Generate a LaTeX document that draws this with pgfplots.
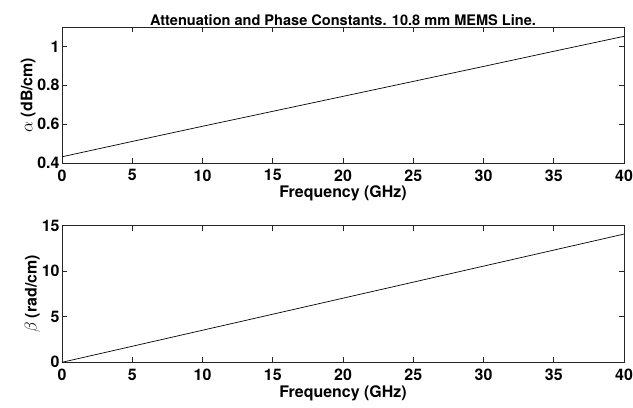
\documentclass[border=0pt]{standalone}
\usepackage{pgfplots}
\pgfplotsset{compat=1.18}
\usepackage{fontspec}
\setmainfont{TeX Gyre Heros}
\pgfplotsset{
  mystyle/.style={
    scale only axis, anchor=south west,
    width=562bp,
    xmin=0, xmax=40,
    xtick={0,5,10,15,20,25,30,35,40},
    axis lines=box,
    tick align=inside,
    major tick length=5bp,
    every tick/.append style={black!85, line width=0.9bp},
    xmajorgrids, ymajorgrids,
    x grid style={black!85, line width=0.9bp, dash pattern=on 5bp off 126bp on 10bp},
    y grid style={black!85, line width=0.9bp, dash pattern=on 5bp off 552bp on 10bp},
    axis line style={black!85, line width=0.9bp},
    tick label style={font=\bfseries\fontsize{16}{18}\selectfont},
    /pgf/number format/assume math mode=true,
    label style={font=\bfseries\fontsize{16}{18}\selectfont},
    xlabel={Frequency (GHz)},
    xticklabel style={yshift=-3bp},
    xlabel style={yshift=2bp},
    ylabel style={yshift=-5bp},
    yticklabel style={xshift=1bp},
  }
}
\begin{document}
\begin{tikzpicture}
\path[use as bounding box] (0bp,0bp) rectangle (633bp,408bp);
\begin{axis}[mystyle, at={(62bp,245bp)}, height=136bp,
  ymin=0.4, ymax=1.1, ytick={0.4,0.6,0.8,1},
  yticklabels={0.4,0.6,0.8,1},
  ylabel={$\alpha$ (dB/cm)},
  title={Attenuation and Phase Constants. 10.8 mm MEMS Line.},
  title style={font=\bfseries\fontsize{14.6}{16}\selectfont, yshift=-8bp},
]
\addplot[black, line width=0.7bp] coordinates {
(0,0.432) (5,0.511) (10,0.589) (15,0.666) (20,0.743) (25,0.820) (30,0.897) (35,0.975) (40,1.052)
};
\end{axis}
\begin{axis}[mystyle, at={(62bp,45.7bp)}, height=136.6bp,
  ymin=0, ymax=15, ytick={0,5,10,15},
  ylabel={$\beta$ (rad/cm)},
]
\addplot[black, line width=0.7bp] coordinates {
(0,0) (5,1.76) (10,3.52) (15,5.28) (20,7.04) (25,8.80) (30,10.56) (35,12.32) (40,14.08)
};
\end{axis}
\end{tikzpicture}
\end{document}
